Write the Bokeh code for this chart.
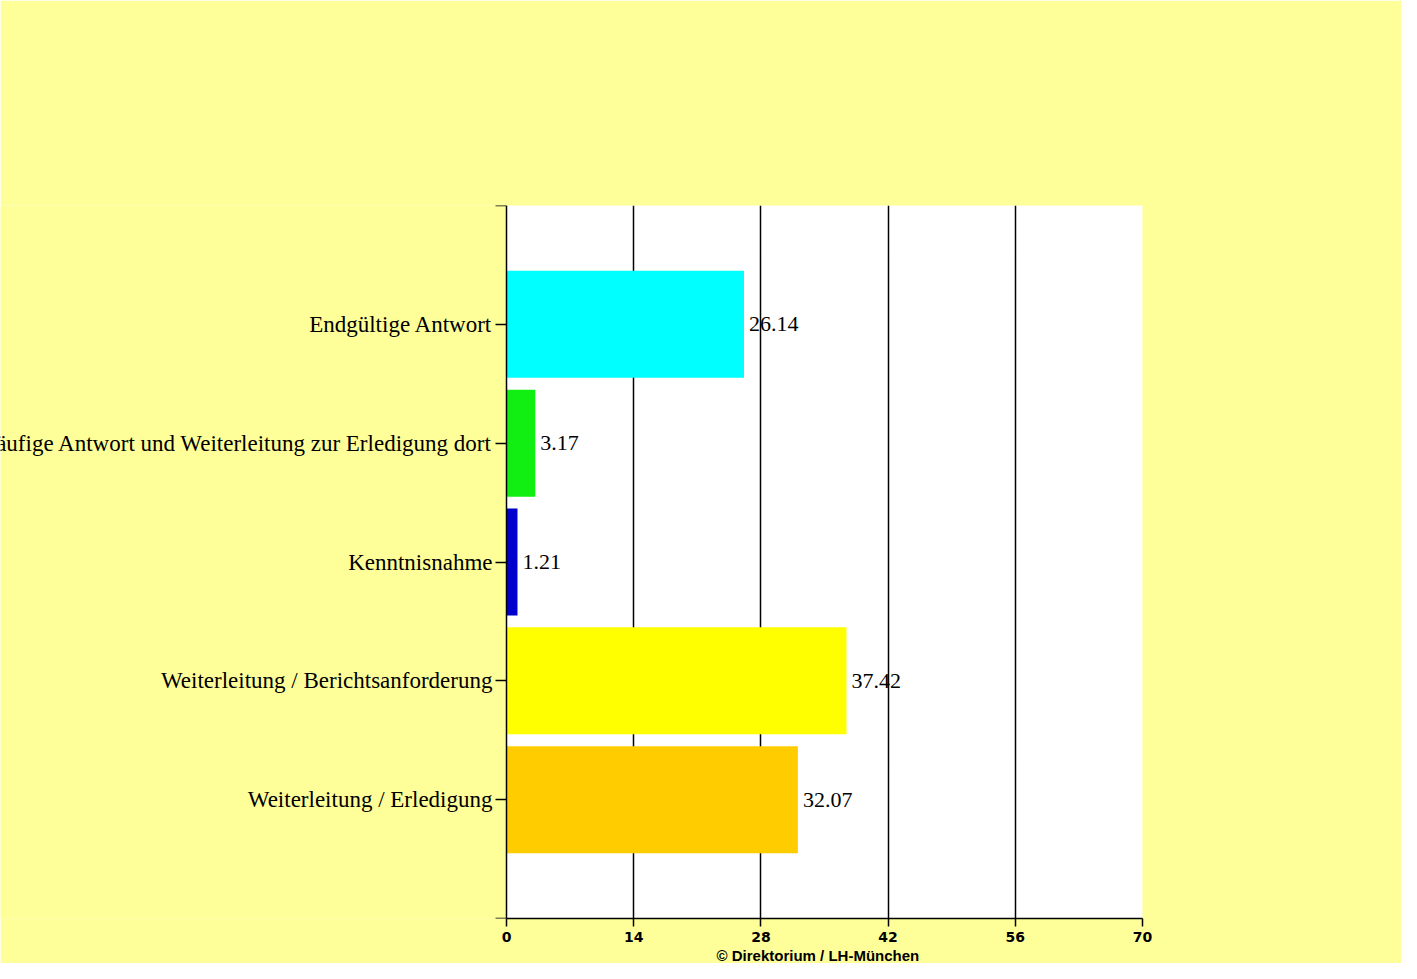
from bokeh.plotting import figure
from bokeh.models import ColumnDataSource, LabelSet, Range1d, FixedTicker, BoxAnnotation, Title
from bokeh.embed import file_html
from bokeh.resources import INLINE

categories = [
    "Endgültige Antwort",
    "Vorläufige Antwort und Weiterleitung zur Erledigung dort",
    "Kenntnisnahme",
    "Weiterleitung / Berichtsanforderung",
    "Weiterleitung / Erledigung",
]
values = [26.14, 3.17, 1.21, 37.42, 32.07]
colors = ["#00FFFF", "#11EE11", "#0000CC", "#FFFF00", "#FFCC00"]
x_ticks = [0, 14, 28, 42, 56, 70]
footer = "© Direktorium / LH-München"

n = len(categories)
pos = [n - i for i in range(n)]
x_max = x_ticks[-1]

# layout (pixels)
W, H = 1401, 963
frame_left = 0
axis_px = 506            # x = 0 location
plot_px = 636            # width of the 0..70 plot area
x_start = -(axis_px - frame_left) * x_max / plot_px

src = ColumnDataSource(dict(
    y=pos,
    right=values,
    color=colors,
    vtxt=[f"{v:.2f}" for v in values],
))

p = figure(width=W, height=H, output_backend="svg", toolbar_location=None,
           x_range=Range1d(x_start, x_max), y_range=Range1d(0, n + 1))
p.min_border_left = frame_left
p.min_border_right = W - axis_px - plot_px
p.min_border_top = 205
p.min_border_bottom = 0
p.border_fill_color = "#FFFF99"
p.background_fill_color = "#FFFF99"
p.outline_line_color = None

# white plot area 0..70
p.add_layout(BoxAnnotation(left=0, right=x_max, fill_color="white", fill_alpha=1.0,
                           line_color=None, level="image"))

p.hbar(y="y", left=0, right="right", height=0.9, color="color", line_color=None, source=src)

# grid
p.ygrid.grid_line_color = None
p.xgrid.ticker = FixedTicker(ticks=x_ticks[1:])
p.xgrid.grid_line_color = "black"
p.xgrid.grid_line_width = 1.5
p.xgrid.grid_line_alpha = 1.0

# x axis
xa = p.xaxis[0]
xa.ticker = FixedTicker(ticks=x_ticks)
xa.bounds = (0, x_max)
xa.axis_line_color = "black"
xa.axis_line_width = 1.5
xa.major_tick_line_color = "black"
xa.major_tick_line_width = 1.5
xa.major_tick_out = 8
xa.major_tick_in = 0
xa.minor_tick_line_color = None
xa.major_label_standoff = 5
xa.major_label_text_font = "DejaVu Sans"
xa.major_label_text_font_style = "bold"
xa.major_label_text_font_size = "14px"
xa.major_label_text_color = "black"

p.add_layout(Title(text=footer, align="left", offset=716, standoff=0,
                   text_font="Liberation Sans", text_font_style="bold",
                   text_font_size="15px", text_color="black"), "below")

# y axis at x = 0 with category labels
ya = p.yaxis[0]
ya.fixed_location = 0
ya.ticker = FixedTicker(ticks=list(range(0, n + 2)))
overrides = {0: "", n + 1: ""}
for yv, c in zip(pos, categories):
    overrides[yv] = c
ya.major_label_overrides = overrides
ya.axis_line_color = "black"
ya.axis_line_width = 1.5
ya.major_tick_line_color = "black"
ya.major_tick_line_width = 1.5
ya.major_tick_out = 11
ya.major_tick_in = 0
ya.minor_tick_line_color = None
ya.major_label_standoff = 3
ya.major_label_text_font = "Liberation Serif"
ya.major_label_text_font_size = "23px"
ya.major_label_text_color = "black"

val_labels = LabelSet(x="right", y="y", text="vtxt", source=src, x_offset=5,
                      text_align="left", text_baseline="middle",
                      text_font="Liberation Serif", text_font_size="22px",
                      text_color="black")
p.add_layout(val_labels)

open("out.html", "w").write(file_html(p, INLINE))
